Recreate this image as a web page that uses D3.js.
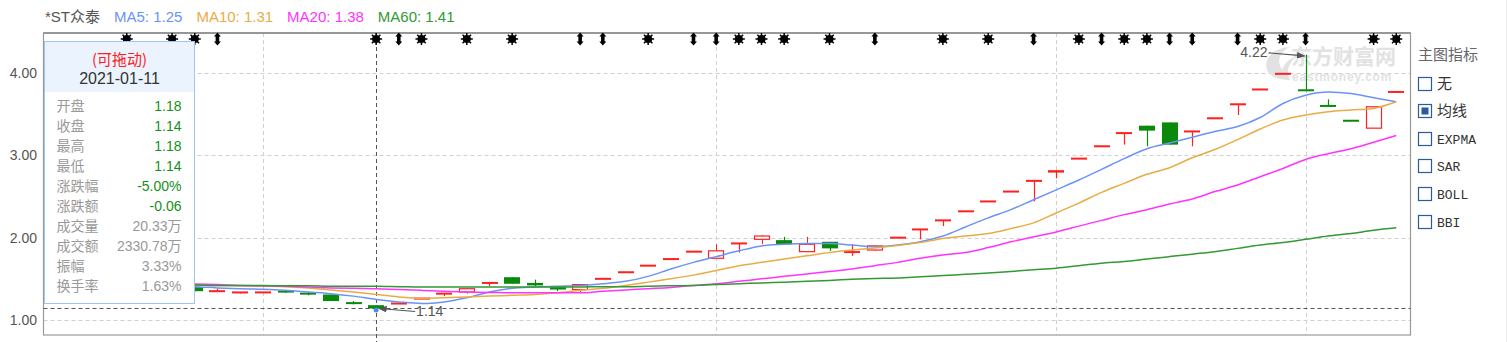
<!DOCTYPE html>
<html>
<head>
<meta charset="utf-8">
<script src="https://cdn.jsdelivr.net/npm/d3@7"></script>
<style>
body { margin: 0; background: #fff; }
svg { display: block; font-family: "Liberation Sans", Arial, "Noto Sans CJK SC", sans-serif; }
</style>
</head>
<body>
<div id="chart"></div>
<script>
// trading days shown in the window
const days = [
  "2020-12-21","2020-12-22","2020-12-23","2020-12-24","2020-12-25","2020-12-28","2020-12-29","2020-12-30","2020-12-31",
  "2021-01-04","2021-01-05","2021-01-06","2021-01-07","2021-01-08","2021-01-11","2021-01-12","2021-01-13","2021-01-14","2021-01-15",
  "2021-01-18","2021-01-19","2021-01-20","2021-01-21","2021-01-22","2021-01-25","2021-01-26","2021-01-27","2021-01-28","2021-01-29",
  "2021-02-01","2021-02-02","2021-02-03","2021-02-04","2021-02-05","2021-02-08","2021-02-09","2021-02-10","2021-02-18","2021-02-19",
  "2021-02-22","2021-02-23","2021-02-24","2021-02-25","2021-02-26","2021-03-01","2021-03-02","2021-03-03","2021-03-04","2021-03-05",
  "2021-03-08","2021-03-09","2021-03-10","2021-03-11","2021-03-12","2021-03-15","2021-03-16","2021-03-17","2021-03-18","2021-03-19",
  "2021-03-22"
];

const opens  = [1.45,1.43,1.42,1.43,1.41,1.40,1.40,1.35,1.33,1.33,1.35,1.33,1.31,1.21,1.18,1.20,1.26,1.32,1.34,1.45,
                1.52,1.45,1.40,1.37,1.50,1.58,1.66,1.74,1.83,1.75,1.93,1.98,1.97,1.83,1.95,1.82,1.85,2.00,2.10,2.21,
                2.32,2.44,2.56,2.69,2.79,2.96,3.11,3.27,3.36,3.40,3.29,3.45,3.62,3.80,3.99,3.79,3.60,3.42,3.33,3.77];
const highs  = [1.46,1.45,1.44,1.44,1.43,1.42,1.41,1.38,1.34,1.34,1.36,1.34,1.31,1.23,1.18,1.20,1.26,1.32,1.38,1.45,
                1.52,1.49,1.40,1.43,1.50,1.58,1.66,1.74,1.83,1.92,1.93,2.03,2.01,2.01,1.95,1.92,1.90,2.00,2.10,2.21,
                2.32,2.44,2.56,2.69,2.82,2.96,3.11,3.27,3.36,3.40,3.29,3.45,3.62,3.80,3.99,4.22,3.68,3.42,3.59,3.77];
const lows   = [1.42,1.41,1.40,1.40,1.39,1.39,1.35,1.35,1.32,1.33,1.33,1.30,1.23,1.19,1.14,1.20,1.26,1.29,1.32,1.41,
                1.44,1.41,1.35,1.33,1.50,1.58,1.66,1.74,1.83,1.75,1.82,1.92,1.92,1.83,1.84,1.78,1.84,2.00,1.98,2.14,
                2.32,2.44,2.56,2.44,2.72,2.96,3.11,3.13,3.11,3.13,3.11,3.45,3.49,3.80,3.99,3.79,3.60,3.42,3.33,3.77];
const closes = [1.43,1.42,1.43,1.41,1.40,1.41,1.35,1.35,1.34,1.34,1.34,1.31,1.23,1.20,1.14,1.20,1.26,1.32,1.38,1.45,
                1.44,1.42,1.37,1.43,1.50,1.58,1.66,1.74,1.83,1.84,1.93,2.02,1.92,1.92,1.87,1.83,1.90,2.00,2.10,2.21,
                2.32,2.44,2.56,2.69,2.82,2.96,3.11,3.27,3.30,3.13,3.29,3.45,3.62,3.80,3.99,3.79,3.60,3.42,3.59,3.77];

const ma5  = [1.43,1.43,1.42,1.42,1.41,1.41,1.405,1.39,1.38,1.373,1.36,1.34,1.32,1.29,1.25,1.22,1.20,1.22,1.27,1.34,
              1.385,1.40,1.41,1.42,1.44,1.47,1.53,1.62,1.70,1.77,1.84,1.90,1.92,1.93,1.93,1.91,1.89,1.91,1.95,2.02,
              2.13,2.24,2.34,2.46,2.58,2.70,2.83,2.96,3.08,3.15,3.22,3.29,3.35,3.46,3.63,3.73,3.77,3.75,3.70,3.65];
const ma10 = [1.44,1.44,1.43,1.43,1.43,1.43,1.425,1.42,1.415,1.41,1.405,1.39,1.365,1.34,1.31,1.28,1.265,1.27,1.28,1.29,
              1.30,1.31,1.33,1.36,1.385,1.42,1.46,1.50,1.545,1.60,1.66,1.70,1.74,1.78,1.82,1.85,1.875,1.905,1.94,1.99,
              2.02,2.05,2.11,2.18,2.30,2.42,2.55,2.66,2.77,2.85,2.97,3.07,3.19,3.32,3.43,3.49,3.53,3.55,3.57,3.65];
const ma20 = [1.44,1.44,1.44,1.44,1.44,1.44,1.437,1.43,1.42,1.415,1.41,1.40,1.39,1.385,1.38,1.37,1.36,1.35,1.34,1.335,
              1.33,1.33,1.33,1.33,1.35,1.365,1.38,1.395,1.42,1.44,1.47,1.50,1.53,1.56,1.59,1.62,1.66,1.70,1.75,1.79,
              1.82,1.88,1.95,2.01,2.07,2.14,2.21,2.28,2.34,2.41,2.47,2.56,2.64,2.74,2.84,2.95,3.02,3.08,3.16,3.24];
const ma60 = [1.43,1.43,1.43,1.43,1.43,1.425,1.425,1.42,1.42,1.42,1.415,1.415,1.41,1.41,1.41,1.405,1.40,1.40,1.40,1.40,
              1.40,1.40,1.40,1.40,1.405,1.405,1.41,1.415,1.42,1.43,1.44,1.45,1.46,1.47,1.48,1.495,1.505,1.51,1.525,1.54,
              1.555,1.57,1.59,1.61,1.63,1.66,1.69,1.71,1.74,1.77,1.80,1.83,1.87,1.91,1.94,1.98,2.02,2.05,2.09,2.12];

const maNames = ["MA5", "MA10", "MA20", "MA60"];
const maLast = ["1.25", "1.31", "1.38", "1.41"];
const stockName = "*ST众泰";

const yTicks = [1, 2, 3, 4];
const gridDays = ["2021-01-04", "2021-02-01", "2021-03-01", "2021-03-16"];
const starDays = [3,5,6,14,16,18,20,26,30,31,32,34,39,41,45,47,48,53,54,58,59];
const arrowDays = [7,15,23,24,28,29,36,43,46,49,50,52,55];

const pickedDay = "2021-01-11";
const tipLabels = ["开盘","收盘","最高","最低","涨跌幅","涨跌额","成交量","成交额","振幅","换手率"];
const tipValues = ["1.18","1.14","1.18","1.14","-5.00%","-0.06","20.33万","2330.78万","3.33%","1.63%"];

const indicators = ["无", "均线", "EXPMA", "SAR", "BOLL", "BBI"];
const indicatorOn = "均线";

// ---- drawing ----
const width = 1508, height = 342;
const plot = {left: 43.5, right: 1410.5, top: 33, bottom: 335};
const maColors = ["#6b93f7", "#e8ac45", "#ff33ff", "#339933"];
const red = "#ff2020", green = "#0a8a0a";

const svg = d3.select("#chart").append("svg")
    .attr("width", width)
    .attr("height", height);

const x = d3.scaleBand()
    .domain(days)
    .range([44, 1411])
    .padding(0.3);
const cx = d => x(d) + x.bandwidth() / 2;

const y = d3.scaleLinear()
    .domain([1, 4])
    .range([320, 73]);

// header
const header = svg.append("g").attr("font-size", 15);
let hx = 45;
const headItems = [{t: stockName, c: "#555"}].concat(maNames.map((n, i) => ({t: `${n}: ${maLast[i]}`, c: maColors[i]})));
headItems.forEach(h => {
    const t = header.append("text").attr("x", hx).attr("y", 22).attr("fill", h.c).text(h.t);
    hx += t.node().getComputedTextLength() + 14;
});

// grid
const grid = svg.append("g").attr("stroke", "#d0d0d0").attr("stroke-dasharray", "4,3");
grid.selectAll("line.h").data(yTicks).enter().append("line")
    .attr("x1", plot.left).attr("x2", plot.right)
    .attr("y1", d => Math.round(y(d)) + 0.5).attr("y2", d => Math.round(y(d)) + 0.5);
grid.selectAll("line.v").data(gridDays).enter().append("line")
    .attr("x1", d => Math.round(cx(d)) + 0.5).attr("x2", d => Math.round(cx(d)) + 0.5)
    .attr("y1", plot.top).attr("y2", plot.bottom);

// y axis labels
const yAxis = d3.axisLeft(y).tickValues(yTicks).tickFormat(d3.format(".2f")).tickSize(0).tickPadding(6);
svg.append("g")
    .attr("transform", `translate(${plot.left - 0.5},0)`)
    .call(yAxis)
    .call(g => g.select(".domain").remove())
    .call(g => g.selectAll("text").attr("font-size", 14).attr("fill", "#555")
        .attr("font-family", "'Liberation Sans', Arial, sans-serif"));

// border
svg.append("rect")
    .attr("x", plot.left).attr("y", plot.top)
    .attr("width", plot.right - plot.left).attr("height", plot.bottom - plot.top)
    .attr("fill", "none").attr("stroke", "#999").attr("stroke-width", 1.2);
svg.append("line").attr("x1", plot.left).attr("x2", plot.right).attr("y1", plot.top).attr("y2", plot.top)
    .attr("stroke", "#888").attr("stroke-width", 1.6);
svg.append("line").attr("x1", 1506.5).attr("x2", 1506.5).attr("y1", 0).attr("y2", height)
    .attr("stroke", "#eee");

// watermark
const wm = svg.append("g").attr("fill", "#e2e2e2");
wm.append("path")
    .attr("d", "M1268,72 C1262,60 1272,48 1290,47 C1280,52 1276,60 1282,70 C1285,62 1290,58 1296,57 C1288,64 1286,72 1290,80 C1282,80 1272,78 1268,72 Z");
wm.append("text").attr("x", 1291).attr("y", 64).attr("font-size", 21).attr("font-weight", "bold")
    .attr("font-family", "'Noto Sans CJK SC', sans-serif").text("东方财富网");
wm.append("text").attr("x", 1292).attr("y", 81).attr("font-size", 12).attr("font-weight", "bold")
    .attr("letter-spacing", 0.8).text("eastmoney.com");

// crosshair
const cross = svg.append("g").attr("stroke", "#555").attr("stroke-dasharray", "4,3");
const pickIdx = days.indexOf(pickedDay);
cross.append("line")
    .attr("x1", Math.round(cx(pickedDay)) + 0.5).attr("x2", Math.round(cx(pickedDay)) + 0.5)
    .attr("y1", plot.top).attr("y2", height);
cross.append("line")
    .attr("x1", plot.left).attr("x2", plot.right)
    .attr("y1", Math.round(y(closes[pickIdx])) + 0.5).attr("y2", Math.round(y(closes[pickIdx])) + 0.5);

// candles
const candles = days.map((d, i) => {
    let up;
    if (closes[i] > opens[i]) up = true;
    else if (closes[i] < opens[i]) up = false;
    else up = i === 0 ? true : closes[i] >= closes[i - 1];
    return {d, o: opens[i], h: highs[i], l: lows[i], c: closes[i], up, hollow: closes[i] > opens[i]};
});

const cg = svg.append("g");
candles.forEach(k => {
    const xc = Math.round(cx(k.d)) + 0.5;
    const col = k.up ? red : green;
    const top = y(Math.max(k.o, k.c)), bot = y(Math.min(k.o, k.c));
    const bh = bot - top;
    const bx = Math.round(x(k.d));
    const bw = Math.round(x.bandwidth());
    if (k.hollow && bh >= 2.5) {
        cg.append("line").attr("x1", xc).attr("x2", xc).attr("y1", y(k.h)).attr("y2", top).attr("stroke", col);
        cg.append("line").attr("x1", xc).attr("x2", xc).attr("y1", bot).attr("y2", y(k.l)).attr("stroke", col);
        cg.append("rect").attr("x", bx + 0.5).attr("y", top).attr("width", bw - 1).attr("height", bh)
            .attr("fill", "#fff").attr("stroke", col).attr("stroke-width", 1.2);
    } else {
        cg.append("line").attr("x1", xc).attr("x2", xc).attr("y1", y(k.h)).attr("y2", y(k.l)).attr("stroke", col).attr("stroke-width", 1.2);
        const h = Math.max(bh, 2);
        cg.append("rect").attr("x", bx).attr("y", (top + bot) / 2 - h / 2).attr("width", bw).attr("height", h)
            .attr("fill", col);
    }
});

// moving averages
const line = d3.line()
    .x((v, i) => cx(days[i]))
    .y(v => y(v))
    .curve(d3.curveMonotoneX);
[ma5, ma10, ma20, ma60].forEach((s, i) => {
    svg.append("path")
        .datum(s)
        .attr("d", line)
        .attr("fill", "none")
        .attr("stroke", maColors[i])
        .attr("stroke-width", 1.5);
});

svg.append("circle").attr("cx", cx(pickedDay)).attr("cy", y(closes[pickIdx]) + 1.5).attr("r", 2.5).attr("fill", "#4a90e2");

// extreme labels
const defs = svg.append("defs");
defs.append("marker").attr("id", "arr").attr("viewBox", "0 0 10 10").attr("refX", 9).attr("refY", 5)
    .attr("markerWidth", 7).attr("markerHeight", 7).attr("orient", "auto-start-reverse")
    .append("path").attr("d", "M0,1 L10,5 L0,9 Z").attr("fill", "#555");

const hiIdx = d3.maxIndex(highs), loIdx = d3.minIndex(lows);
svg.append("line")
    .attr("x1", cx(days[hiIdx]) - 37).attr("y1", y(highs[hiIdx]) - 2)
    .attr("x2", cx(days[hiIdx]) - 1).attr("y2", y(highs[hiIdx]) + 1)
    .attr("stroke", "#555").attr("stroke-width", 1.2).attr("marker-end", "url(#arr)");
svg.append("text")
    .attr("x", cx(days[hiIdx]) - 38).attr("y", y(highs[hiIdx]) + 2)
    .attr("text-anchor", "end").attr("font-size", 14).attr("fill", "#555")
    .text(d3.format(".2f")(highs[hiIdx]));
svg.append("line")
    .attr("x1", cx(days[loIdx]) + 39).attr("y1", y(lows[loIdx]) + 3)
    .attr("x2", cx(days[loIdx]) + 3).attr("y2", y(lows[loIdx]))
    .attr("stroke", "#555").attr("stroke-width", 1.2).attr("marker-end", "url(#arr)");
svg.append("text")
    .attr("x", cx(days[loIdx]) + 40).attr("y", y(lows[loIdx]) + 8)
    .attr("font-size", 14).attr("fill", "#555")
    .text(d3.format(".2f")(lows[loIdx]));

// top event markers
const mk = svg.append("g").attr("fill", "#000").attr("stroke", "#000");
starDays.forEach(i => {
    const g = mk.append("g").attr("transform", `translate(${cx(days[i])},39)`);
    [0, 45, 90, 135].forEach(a => g.append("line")
        .attr("x1", -6).attr("x2", 6).attr("y1", 0).attr("y2", 0)
        .attr("stroke-width", 1.5).attr("transform", `rotate(${a})`));
    g.append("circle").attr("r", 4).attr("stroke", "none");
});
arrowDays.forEach(i => {
    mk.append("path")
        .attr("transform", `translate(${cx(days[i])},39)`)
        .attr("stroke", "none")
        .attr("d", "M0,-6.5 L3.5,-2.5 L1.8,-2.5 L1.8,2.5 L3.5,2.5 L0,6.5 L-3.5,2.5 L-1.8,2.5 L-1.8,-2.5 L-3.5,-2.5 Z");
});

// tooltip box
const tip = svg.append("g").attr("transform", "translate(44.5,41.5)");
tip.append("rect").attr("width", 150).attr("height", 262).attr("fill", "#fff").attr("stroke", "#9ec5f3");
tip.append("rect").attr("x", 0.5).attr("y", 0.5).attr("width", 149).attr("height", 50).attr("fill", "#eaf3fe");
tip.append("text").attr("x", 75).attr("y", 23).attr("text-anchor", "middle").attr("font-size", 15)
    .attr("fill", "#ff2020").attr("font-family", "'Noto Sans CJK SC', sans-serif").text("(可拖动)");
tip.append("text").attr("x", 75).attr("y", 42).attr("text-anchor", "middle").attr("font-size", 16)
    .attr("fill", "#333").text(pickedDay);
tipLabels.forEach((lab, i) => {
    const ry = 69 + i * 20;
    tip.append("text").attr("x", 12).attr("y", ry).attr("font-size", 14).attr("fill", "#999")
        .attr("font-family", "'Noto Sans CJK SC', sans-serif").text(lab);
    tip.append("text").attr("x", 137).attr("y", ry).attr("text-anchor", "end").attr("font-size", 14)
        .attr("fill", i < 6 ? "#13901a" : "#999").text(tipValues[i]);
});

// right panel
const panel = svg.append("g").attr("transform", "translate(1418,0)");
panel.append("text").attr("x", 0).attr("y", 60).attr("font-size", 15).attr("fill", "#666")
    .attr("font-family", "'Noto Sans CJK SC', sans-serif").text("主图指标");
indicators.forEach((name, i) => {
    const ry = 83.5 + i * 27.6;
    panel.append("rect").attr("x", 0.5).attr("y", Math.round(ry - 7) + 0.5).attr("width", 13).attr("height", 13)
        .attr("fill", "#fff").attr("stroke", "#2d5a9a").attr("stroke-width", 1.2);
    if (name === indicatorOn) {
        panel.append("rect").attr("x", 3.5).attr("y", Math.round(ry - 7) + 3.5).attr("width", 7).attr("height", 7)
            .attr("fill", "#2d5a9a");
    }
    const ascii = /^[A-Z]+$/.test(name);
    panel.append("text").attr("x", 19).attr("y", ry + 5).attr("font-size", ascii ? 13 : 15).attr("fill", "#333")
        .attr("font-family", ascii ? "'Liberation Mono', monospace" : "'Noto Sans CJK SC', sans-serif")
        .text(name);
});
</script>
</body>
</html>
